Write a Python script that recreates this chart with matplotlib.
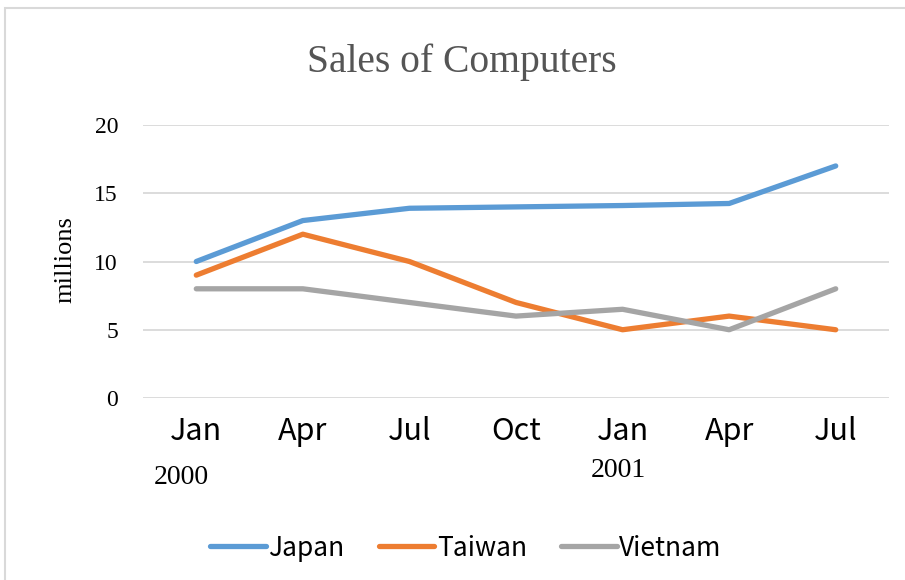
import matplotlib
matplotlib.use('Agg')
import matplotlib.pyplot as plt
from matplotlib.patches import Rectangle

# Chart data
months = ['Jan', 'Apr', 'Jul', 'Oct', 'Jan', 'Apr', 'Jul']
years = ['2000', '2001']
year_idx = [0, 4]  # category each year label sits under

japan = [10, 13, 13.9, 14, 14.1, 14.25, 17]
taiwan = [9, 12, 10, 7, 5, 6, 5]
vietnam = [8, 8, 7, 6, 6.5, 5, 8]

series = [('Japan', japan, '#5B9BD5'),
          ('Taiwan', taiwan, '#ED7D31'),
          ('Vietnam', vietnam, '#A5A5A5')]

serif = ['Liberation Serif', 'DejaVu Serif']
sans = ['Noto Sans CJK JP', 'DejaVu Sans']

W, H = 905, 580
fig = plt.figure(figsize=(W / 100, H / 100), dpi=100)
ax = fig.add_axes([143 / W, 1 - 398 / H, (889 - 143) / W, (398 - 125) / H])

x = list(range(len(months)))
for name, vals, color in series:
    ax.plot(x, vals, color=color, lw=3.8, label=name,
            solid_capstyle='round', solid_joinstyle='round')

ax.set_xlim(-0.5, len(months) - 0.5)
ax.set_ylim(0, 20)
ax.set_yticks([0, 5, 10, 15, 20])
ax.set_xticks(x)
ax.set_xticklabels(months, family=sans, fontsize=22)
for lab in ax.get_yticklabels():
    lab.set_family(serif)
    lab.set_fontsize(17)
ax.tick_params(axis='x', length=0, pad=13)
ax.tick_params(axis='y', length=0, pad=18)

ax.grid(axis='y', color='#D9D9D9', lw=1.3)
ax.set_axisbelow(True)
for s in ax.spines.values():
    s.set_visible(False)

# year labels under the first month of each year
for lab, i in zip(years, year_idx):
    off = -0.14 if i == 0 else -0.04
    dy = -0.29 if i == 0 else -0.265
    ax.text(i + off, dy, lab, transform=ax.get_xaxis_transform(),
            ha='center', va='center', family=serif, fontsize=20)

fig.text(462 / W, 1 - 62 / H, 'Sales of Computers', ha='center', va='center',
         family=serif, fontsize=28.5, color='#555555')
fig.text(65 / W, 1 - 260 / H, 'millions', rotation=90, ha='center', va='center',
         family=serif, fontsize=19)

leg = fig.legend(loc='center', bbox_to_anchor=(466 / W, 1 - 548 / H), ncol=3,
                 frameon=False, prop={'family': sans, 'size': 19},
                 handlelength=2.1, handletextpad=0.1, columnspacing=1.3)

fig.add_artist(Rectangle((5 / W, -0.1), 1.2, 1.1 - 8 / H, transform=fig.transFigure,
                         fill=False, edgecolor='#D9D9D9', lw=1.5, clip_on=False))

fig.savefig('out.png', dpi=100)
